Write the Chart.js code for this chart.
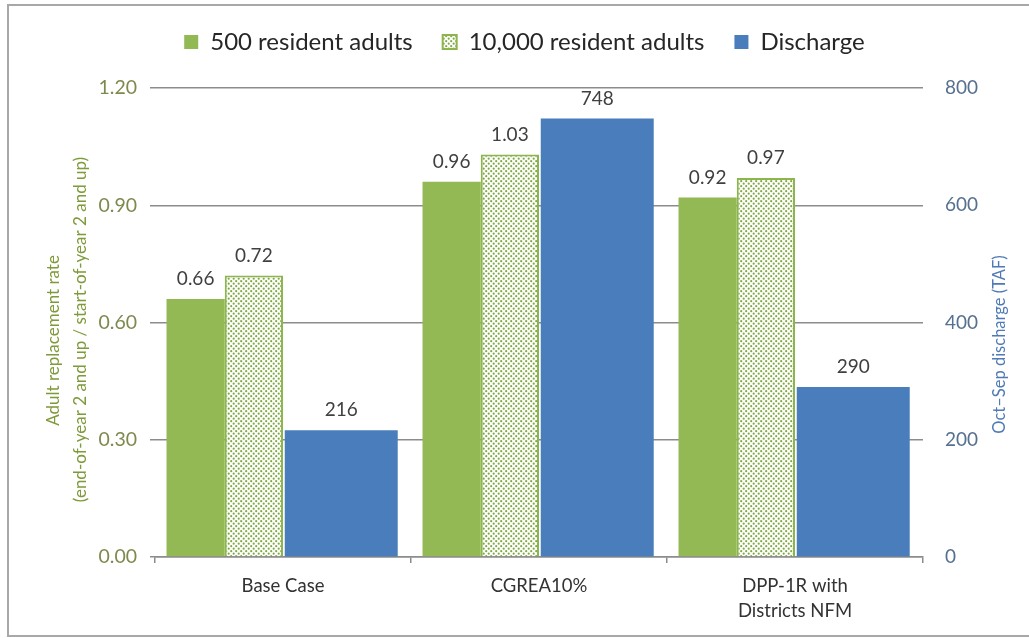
<!DOCTYPE html>
<html>
<head>
<meta charset="utf-8">
<title>Adult replacement rate and discharge</title>
<script src="https://cdn.jsdelivr.net/npm/chart.js@4"></script>
<style>
  html, body { margin: 0; padding: 0; background: #fff; }
  canvas { display: block; }
</style>
</head>
<body>
<canvas id="chart" width="1029" height="638"></canvas>
<script>
const categories = ["Base Case", "CGREA10%", ["DPP-1R with", "Districts NFM"]]
const adults500 = [0.66, 0.96, 0.92]
const adults10000 = [0.72, 1.03, 0.97]
const discharge = [216, 748, 290]
const rateTicks = [0, 0.3, 0.6, 0.9, 1.2]
const dischargeTicks = [0, 200, 400, 600, 800]

const GREEN = "#92b954"
const BLUE = "#4a7dbb"
const FONT = "Lato, 'Open Sans', sans-serif"

// speckled fill for the 10,000 series
function dotPattern() {
  const c = document.createElement("canvas")
  c.width = 5
  c.height = 5
  const g = c.getContext("2d")
  g.fillStyle = "#ffffff"
  g.fillRect(0, 0, 5, 5)
  g.fillStyle = "#80a944"
  for (const [x, y] of [[1.2, 1.2], [3.7, 3.7]]) {
    g.beginPath()
    g.arc(x, y, 1.1, 0, Math.PI * 2)
    g.fill()
  }
  return g.createPattern(c, "repeat")
}

// white page with the grey frame of the original
const frame = {
  id: "frame",
  beforeDraw(chart) {
    const ctx = chart.ctx
    ctx.save()
    ctx.fillStyle = "#fff"
    ctx.fillRect(0, 0, chart.width, chart.height)
    ctx.strokeStyle = "#a8a8a8"
    ctx.lineWidth = 2
    ctx.strokeRect(8, 5, chart.width + 20, 631)
    ctx.restore()
  }
}

// value labels above the bars, plus both axis titles (both read bottom to top)
const valueLabels = {
  id: "valueLabels",
  afterDatasetsDraw(chart) {
    const ctx = chart.ctx
    ctx.save()
    ctx.font = "19px " + FONT
    ctx.fillStyle = "#404040"
    ctx.textAlign = "center"
    ctx.textBaseline = "middle"
    chart.data.datasets.forEach((ds, i) => {
      chart.getDatasetMeta(i).data.forEach((bar, j) => {
        const v = ds.data[j]
        const text = ds.yAxisID === "y1" ? String(v) : v.toFixed(2)
        ctx.fillText(text, bar.x, bar.y - 20)
      })
    })

    const mid = (chart.chartArea.top + chart.chartArea.bottom) / 2
    const vertical = (text, x, y, color, size) => {
      ctx.save()
      ctx.translate(x, y)
      ctx.rotate(-Math.PI / 2)
      ctx.font = size + "px " + FONT
      ctx.fillStyle = color
      ctx.fillText(text, 0, 0)
      ctx.restore()
    }
    vertical("Adult replacement rate", 54, mid + 18, "#7f9a3a", 17)
    vertical("(end-of-year 2 and up / start-of-year 2 and up)", 81, mid + 7, "#7f9a3a", 17)
    vertical("Oct\u2013Sep discharge (TAF)", 1000, mid + 22, "#4f7ab5", 16.5)
    ctx.restore()
  }
}

const ctx = document.getElementById("chart")

new Chart(ctx, {
  type: "bar",
  data: {
    labels: categories,
    datasets: [
      { label: "500 resident adults", data: adults500, backgroundColor: GREEN, borderWidth: 0, xAxisID: "x", yAxisID: "y" },
      { label: "10,000 resident adults", data: adults10000, backgroundColor: dotPattern(), borderColor: "#8db54e", borderWidth: 2, xAxisID: "x", yAxisID: "y" },
      // discharge sits on its own hidden category axis so it takes the right half of each group
      { label: "Discharge", data: discharge, backgroundColor: BLUE, borderWidth: 0, barPercentage: 0.97, xAxisID: "x2", yAxisID: "y1" }
    ]
  },
  options: {
    responsive: false,
    animation: false,
    categoryPercentage: 0.91,
    barPercentage: 1,
    layout: { padding: 0 },
    plugins: {
      tooltip: { enabled: false },
      legend: {
        position: "top",
        labels: {
          font: { family: FONT, size: 24 },
          color: "#262626",
          boxWidth: 14,
          boxHeight: 14,
          padding: 30
        }
      }
    },
    scales: {
      x: {
        offset: true,
        grid: { offset: true, drawOnChartArea: false, tickLength: 6, color: "#8c8c8c", lineWidth: 1.5 },
        border: { color: "#8c8c8c", width: 1.5 },
        ticks: { font: { family: FONT, size: 18.5, lineHeight: 1.35 }, color: "#333", padding: 11, maxRotation: 0 },
        afterFit: (s) => { s.height = 81 }
      },
      x2: {
        display: false,
        offset: true
      },
      y: {
        position: "left",
        min: 0,
        max: 1.2,
        afterBuildTicks: (s) => { s.ticks = rateTicks.map((v) => ({ value: v })) },
        grid: { color: "#8c8c8c", lineWidth: 1.5, tickLength: 5 },
        border: { display: false },
        ticks: { font: { family: FONT, size: 19.5 }, color: "#7d8a4e", padding: 13, callback: (v) => v.toFixed(2) },
        afterFit: (s) => { s.width = 155 }
      },
      y1: {
        position: "right",
        min: 0,
        max: 800,
        afterBuildTicks: (s) => { s.ticks = dischargeTicks.map((v) => ({ value: v })) },
        grid: { drawOnChartArea: false, drawTicks: false },
        border: { display: false },
        ticks: { font: { family: FONT, size: 19 }, color: "#56708f", padding: 22 },
        afterFit: (s) => { s.width = 106 }
      }
    }
  },
  plugins: [frame, valueLabels, {
    id: "legendBox",
    beforeLayout(chart) {
      const lg = chart.legend
      if (lg && !lg._fixed) {
        const fit = lg.fit.bind(lg)
        lg.fit = function () { fit(); this.height = 88 }
        lg._fixed = true
      }
    },
    afterLayout(chart) {
      // the original legend sits a little right of centre
      chart.legend.left += 10
      chart.legend.right += 10
    }
  }]
})
</script>
</body>
</html>
